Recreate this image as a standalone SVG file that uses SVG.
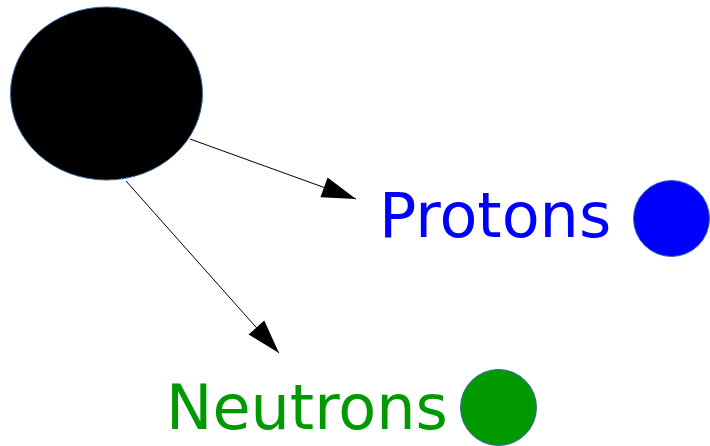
<svg xmlns="http://www.w3.org/2000/svg" width="710" height="446" viewBox="0 0 710 446">
<style>
.node{stroke:#3465a4;stroke-width:1}
.lbl{font-family:"DejaVu Sans",Verdana,sans-serif;font-size:62px}
.edge{stroke:#000;stroke-width:1;fill:none;marker-end:url(#arr)}
</style>
<defs>
<marker id="arr" markerUnits="userSpaceOnUse" markerWidth="36" markerHeight="22" refX="34" refY="10.5" orient="auto" overflow="visible">
<path d="M0,0 L34,10.5 L0,21 Z" fill="#000"/>
</marker>
</defs>
<rect width="710" height="446" fill="#fff"/>
<g id="connectors">
<line class="edge" x1="190" y1="139" x2="356" y2="199"/>
<line class="edge" x1="126" y1="181" x2="279" y2="353"/>
</g>
<g id="nucleus">
<ellipse class="node" cx="106.5" cy="93.5" rx="96" ry="86.5" fill="#000"/>
</g>
<g id="protons">
<text class="lbl" x="379" y="237" fill="#0000ff">Protons</text>
<circle class="node" cx="671.5" cy="218.5" r="38" fill="#0000ff"/>
</g>
<g id="neutrons">
<text class="lbl" x="166" y="429" fill="#009900">Neutrons</text>
<circle class="node" cx="498.5" cy="407.5" r="38" fill="#009900"/>
</g>
</svg>
